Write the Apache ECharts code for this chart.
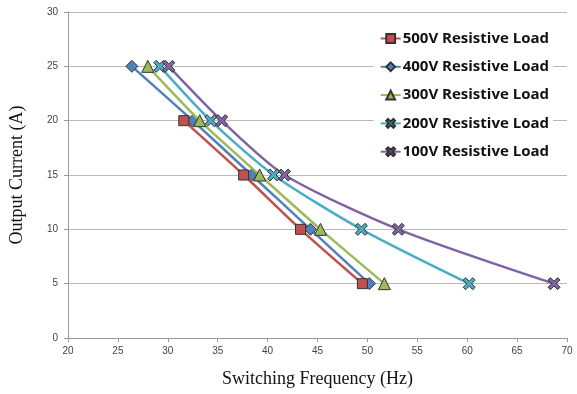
<!DOCTYPE html>
<html>
<head>
<meta charset="utf-8">
<style>
html, body { margin: 0; padding: 0; background: #fff; }
#myChart { width: 577px; height: 394px; }
</style>
<script src="https://cdn.jsdelivr.net/npm/echarts@6/dist/echarts.min.js"></script>
</head>
<body>
<div id="myChart"></div>
<script>
// output current levels (A)
const current = [25, 20, 15, 10, 5]
// switching frequency (Hz) read at each current level
const freq500 = [null, 31.6, 37.6, 43.3, 49.5]
const freq400 = [26.4, 32.5, 38.4, 44.3, 50.2]
const freq300 = [28.0, 33.2, 39.2, 45.3, 51.7]
const freq200 = [29.2, 34.3, 40.6, 49.4, 60.2]
const freq100 = [30.1, 35.4, 41.7, 53.1, 68.7]
const seriesNames = ['500V Resistive Load', '400V Resistive Load', '300V Resistive Load', '200V Resistive Load', '100V Resistive Load']

const xShape = 'path://M2,0 L5,3 L8,0 L10,2 L7,5 L10,8 L8,10 L5,7 L2,10 L0,8 L3,5 L0,2 Z'

function pairs(freqs) {
  return freqs.map((f, i) => (f == null ? null : [f, current[i]])).filter(p => p)
}

function makeSeries(name, freqs, color, symbol, size, z) {
  return {
    name: name,
    type: 'line',
    data: pairs(freqs),
    smooth: 0.25,
    symbol: symbol,
    symbolSize: size,
    z: z,
    lineStyle: { color: color, width: 2.5 },
    itemStyle: { color: color, borderColor: '#333', borderWidth: 1 },
  }
}

let myChart = echarts.init(document.getElementById('myChart'))
myChart.setOption({
  animation: false,
  backgroundColor: '#fff',
  grid: { left: 65, right: 10, top: 12, bottom: 56 },
  legend: {
    data: seriesNames,
    orient: 'vertical',
    right: 24,
    top: 27,
    itemGap: 13.3,
    itemWidth: 20,
    itemHeight: 11,
    backgroundColor: '#fff',
    padding: [4, 4, 4, 6],
    textStyle: { fontFamily: 'Open Sans', fontWeight: 'bold', fontSize: 15, color: '#111', padding: [0, 0, 0, -3] },
  },
  xAxis: {
    type: 'value',
    min: 20,
    max: 70,
    interval: 5,
    name: 'Switching Frequency (Hz)',
    nameLocation: 'middle',
    nameGap: 32,
    nameTextStyle: { fontFamily: 'Liberation Serif', fontSize: 18, color: '#111' },
    axisLine: { lineStyle: { color: '#999' } },
    axisTick: { show: true, length: 4, lineStyle: { color: '#999' } },
    axisLabel: { fontSize: 10, color: '#444', margin: 8 },
    splitLine: { show: false },
  },
  yAxis: {
    type: 'value',
    min: 0,
    max: 30,
    interval: 5,
    name: 'Output Current (A)',
    nameLocation: 'middle',
    nameGap: 42,
    nameTextStyle: { fontFamily: 'Liberation Serif', fontSize: 18, color: '#111' },
    axisLine: { show: true, lineStyle: { color: '#999' } },
    axisTick: { show: true, length: 4, lineStyle: { color: '#999' } },
    axisLabel: { fontSize: 10, color: '#444', margin: 10 },
    splitLine: { show: true, lineStyle: { color: '#b8b8b8' } },
  },
  series: [
    makeSeries(seriesNames[0], freq500, '#C0504D', 'rect', 10, 7),
    makeSeries(seriesNames[1], freq400, '#4F81BD', 'diamond', 12, 3),
    makeSeries(seriesNames[2], freq300, '#9BBB59', 'triangle', 12, 5),
    makeSeries(seriesNames[3], freq200, '#4BACC6', xShape, 12, 4),
    makeSeries(seriesNames[4], freq100, '#8064A2', xShape, 12, 4),
  ],
})
</script>
</body>
</html>
